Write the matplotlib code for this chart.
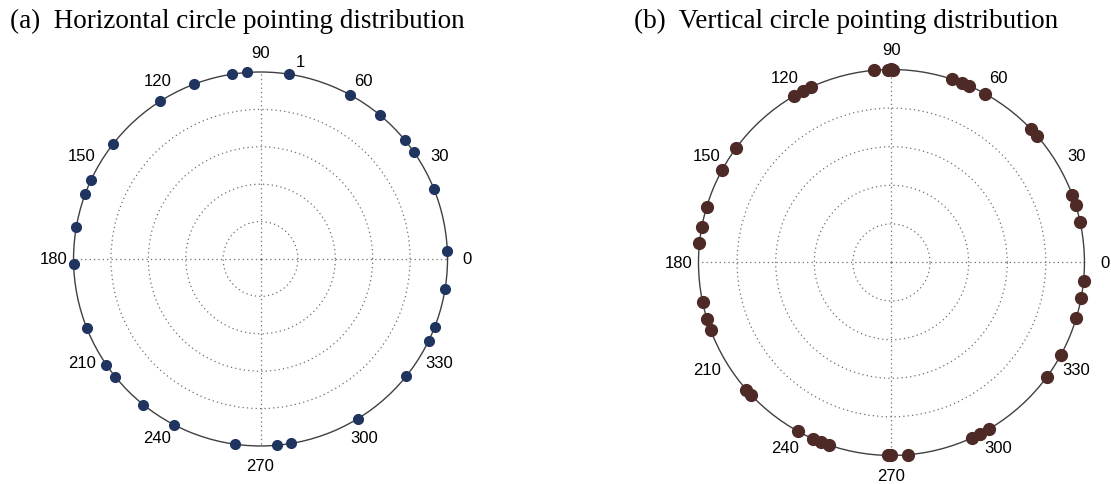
import numpy as np
import matplotlib.pyplot as plt

# pointing angles (degrees), all on the unit circle
h_angles = [98.8, 94.1, 81.3, 111.0, 122.4, 142.1, 155.0, 159.7, 170.3, 181.5,
            61.5, 50.4, 39.5, 35.0, 22.1, 2.4, 201.6, 214.4, 219.1, 231.2,
            242.5, 262.2, 274.9, 279.5, 301.4, 321.3, 334.0, 338.7, 350.8]
v_angles = [95.2, 90.9, 89.5, 90.2, 120.5, 117.3, 114.6, 143.7, 151.5, 163.3,
            169.3, 174.3, 71.6, 68.6, 66.3, 61.1, 43.8, 41.0, 20.6, 17.3, 12.0,
            354.6, 349.3, 343.3, 331.4, 323.7, 300.4, 297.3, 294.6, 275.0,
            270.0, 269.0, 251.2, 248.6, 246.1, 241.0, 223.3, 221.2, 200.5,
            197.0, 191.9]

angle_labels = [0, 30, 60, 90, 120, 150, 180, 210, 240, 270, 300, 330]
titles = ["(a)  Horizontal circle pointing distribution",
          "(b)  Vertical circle pointing distribution"]
colors = ["#1f3560", "#4e2a27"]

fig = plt.figure(figsize=(11.11, 4.85), dpi=100)
ax1 = fig.add_axes([0.0662, 0.0784, 0.3366, 0.7711], projection="polar")
ax2 = fig.add_axes([0.6287, 0.0588, 0.3474, 0.7959], projection="polar")


def style_polar(ax, angles, color, msize):
    th = np.deg2rad(angles)
    ax.plot(th, np.ones_like(th), "o", color=color, ms=msize, mec=color,
            clip_on=False, zorder=5)
    ax.set_ylim(0, 1)
    ax.set_rticks([0.2, 0.4, 0.6, 0.8])
    ax.set_yticklabels([])
    ax.set_thetagrids([0, 90, 180, 270], labels=[""] * 4)
    ax.grid(True, color="#707070", linestyle=(0, (1, 2.5)), linewidth=0.9)
    ax.spines["polar"].set_color("#404040")
    ax.spines["polar"].set_linewidth(1.0)
    for a in angle_labels:
        t = np.deg2rad(a)
        ax.text(t, 1.105, str(a), ha="center", va="center",
                fontsize=12, family="Liberation Sans", clip_on=False)


style_polar(ax1, h_angles, colors[0], 7)
style_polar(ax2, v_angles, colors[1], 8.5)
# stray label on the horizontal plot
ax1.text(np.deg2rad(78.6), 1.08, "1", ha="center", va="center",
         fontsize=12, family="Liberation Sans", clip_on=False)

fig.text(0.009, 0.955, titles[0], ha="left", va="center", fontsize=19.5,
         family="Liberation Serif")
fig.text(0.571, 0.955, titles[1], ha="left", va="center", fontsize=19.5,
         family="Liberation Serif")

plt.savefig("out.png", dpi=100)
